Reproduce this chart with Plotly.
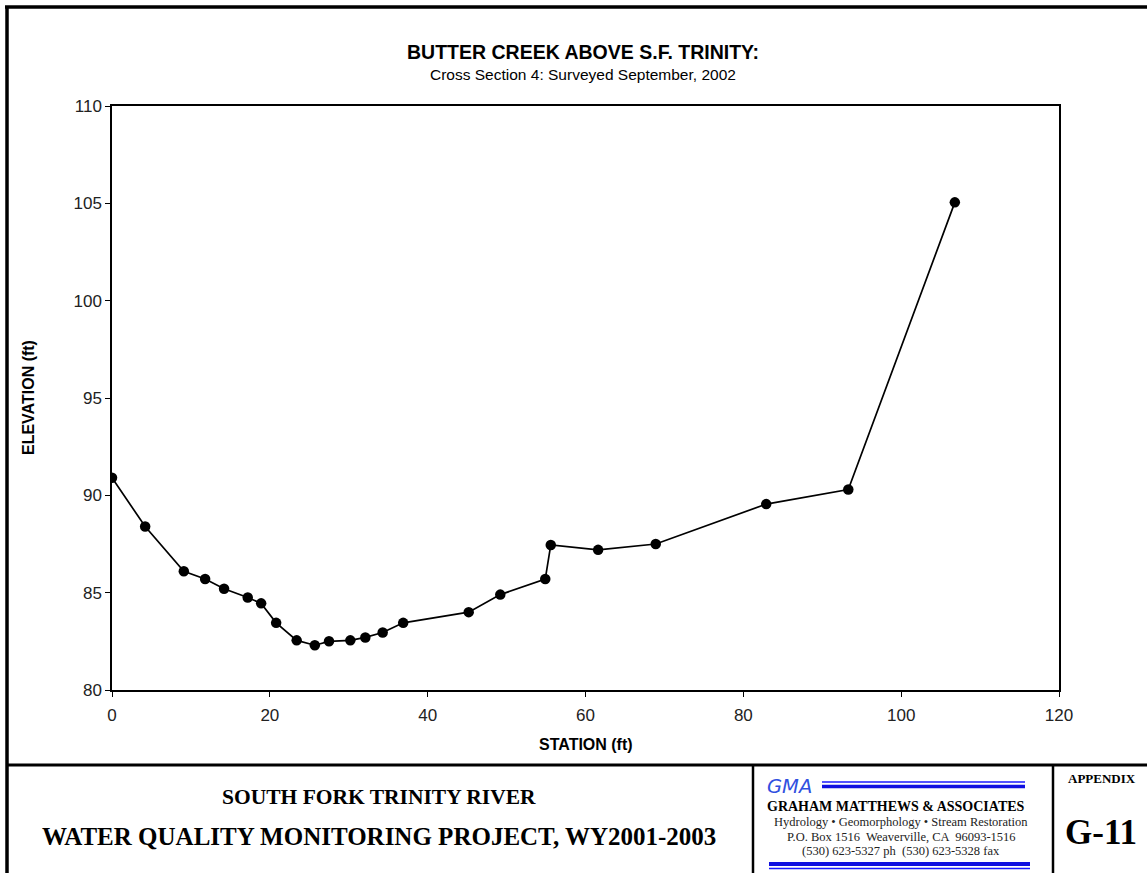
import plotly.graph_objects as go

station = [0, 4.2, 9.1, 11.8, 14.2, 17.2, 18.9, 20.8, 23.4, 25.7, 27.5, 30.2, 32.1, 34.3, 36.9,
           45.2, 49.2, 54.9, 55.6, 61.6, 68.9, 82.9, 93.3, 106.8]
elevation = [90.9, 88.4, 86.1, 85.7, 85.2, 84.75, 84.45, 83.45, 82.55, 82.3, 82.5, 82.55, 82.7, 82.95, 83.45,
             84.0, 84.9, 85.7, 87.45, 87.2, 87.5, 89.55, 90.3, 105.05]

x_ticks = [0, 20, 40, 60, 80, 100, 120]
y_ticks = [80, 85, 90, 95, 100, 105, 110]

W, H = 1147, 873
L, R, T, B = 112, 1059, 106, 690

def px(x):
    return (x - L) / (R - L)

def py(y):
    return (B - y) / (B - T)

fig = go.Figure()
fig.add_trace(go.Scatter(
    x=station, y=elevation, mode="lines+markers",
    line=dict(color="black", width=1.7),
    marker=dict(color="black", size=10.5),
    showlegend=False, hoverinfo="x+y"))

fig.update_layout(
    width=W, height=H,
    margin=dict(l=L, r=W - R, t=T, b=H - B, autoexpand=False),
    paper_bgcolor="white", plot_bgcolor="white",
    font=dict(family="Arial, Liberation Sans, sans-serif", color="black"),
    xaxis=dict(range=[0, 120], tickvals=x_ticks, showgrid=False, zeroline=False,
               showline=True, linecolor="black", linewidth=1.5, mirror=True,
               ticks="outside", ticklen=5, tickcolor="black", ticklabelstandoff=4,
               tickfont=dict(size=17, color="#222")),
    yaxis=dict(range=[80, 110], tickvals=y_ticks, showgrid=False, zeroline=False,
               showline=True, linecolor="black", linewidth=1.5, mirror=True,
               ticks="outside", ticklen=5, tickcolor="black",
               tickfont=dict(size=17, color="#222")),
)

shapes = []
# page border lines
shapes.append(dict(type="line", xref="paper", yref="paper", x0=px(5), x1=px(1147), y0=py(7), y1=py(7),
                   line=dict(color="black", width=3.5)))
shapes.append(dict(type="line", xref="paper", yref="paper", x0=px(7), x1=px(7), y0=py(6), y1=py(873),
                   line=dict(color="black", width=3.5)))
shapes.append(dict(type="line", xref="paper", yref="paper", x0=px(6), x1=px(1147), y0=py(765), y1=py(765),
                   line=dict(color="black", width=3)))
shapes.append(dict(type="line", xref="paper", yref="paper", x0=px(753), x1=px(753), y0=py(765), y1=py(873),
                   line=dict(color="black", width=2.5)))
shapes.append(dict(type="line", xref="paper", yref="paper", x0=px(1053), x1=px(1053), y0=py(765), y1=py(873),
                   line=dict(color="black", width=2.5)))
# blue lines in GMA box
shapes.append(dict(type="line", xref="paper", yref="paper", x0=px(822), x1=px(1025), y0=py(782), y1=py(782),
                   line=dict(color="#1a1aff", width=1.5)))
shapes.append(dict(type="line", xref="paper", yref="paper", x0=px(822), x1=px(1025), y0=py(786.5), y1=py(786.5),
                   line=dict(color="#1010e0", width=3.5)))
shapes.append(dict(type="line", xref="paper", yref="paper", x0=px(769), x1=px(1030), y0=py(864), y1=py(864),
                   line=dict(color="#1010e0", width=4)))
shapes.append(dict(type="line", xref="paper", yref="paper", x0=px(769), x1=px(1030), y0=py(868.5), y1=py(868.5),
                   line=dict(color="#1a1aff", width=1.5)))
fig.update_layout(shapes=shapes)

serif = "Times New Roman, Liberation Serif, serif"
ann = []
def add(text, x, y, size, family="Arial, Liberation Sans, sans-serif", color="black", angle=0):
    ann.append(dict(text=text, x=px(x), y=py(y), xref="paper", yref="paper", showarrow=False,
                    xanchor="center", yanchor="middle", textangle=angle,
                    font=dict(size=size, family=family, color=color)))

add("<b>BUTTER CREEK ABOVE S.F. TRINITY:</b>", 583, 52, 19.5)
add("Cross Section 4: Surveyed September, 2002", 583, 75, 15.5)
add("<b>STATION (ft)</b>", 586, 744, 16)
add("<b>ELEVATION (ft)</b>", 28, 398, 16, angle=-90)
add("<b>SOUTH FORK TRINITY RIVER</b>", 379, 797, 21.5, family=serif)
add("<b>WATER QUALITY MONITORING PROJECT, WY2001-2003</b>", 379, 836, 25, family=serif)
add("<i>GMA</i>", 789, 786, 19.5, family="DejaVu Sans, sans-serif", color="#3050e0")
add("<b>GRAHAM MATTHEWS &amp; ASSOCIATES</b>", 896, 806, 14, family=serif)
add("Hydrology • Geomorphology • Stream Restoration", 901, 822, 12.5, family=serif, color="#222")
add("P.O. Box 1516  Weaverville, CA  96093-1516", 901, 837, 12.5, family=serif, color="#222")
add("(530) 623-5327 ph  (530) 623-5328 fax", 901, 851, 12.5, family=serif, color="#222")
add("<b>APPENDIX</b>", 1102, 778, 13, family=serif)
add("<b>G-11</b>", 1101, 832, 35, family=serif)
fig.update_layout(annotations=ann)

fig.write_html("out.html", config={"displayModeBar": False},
               post_script="document.body.style.margin='0';document.body.style.overflow='hidden';")
